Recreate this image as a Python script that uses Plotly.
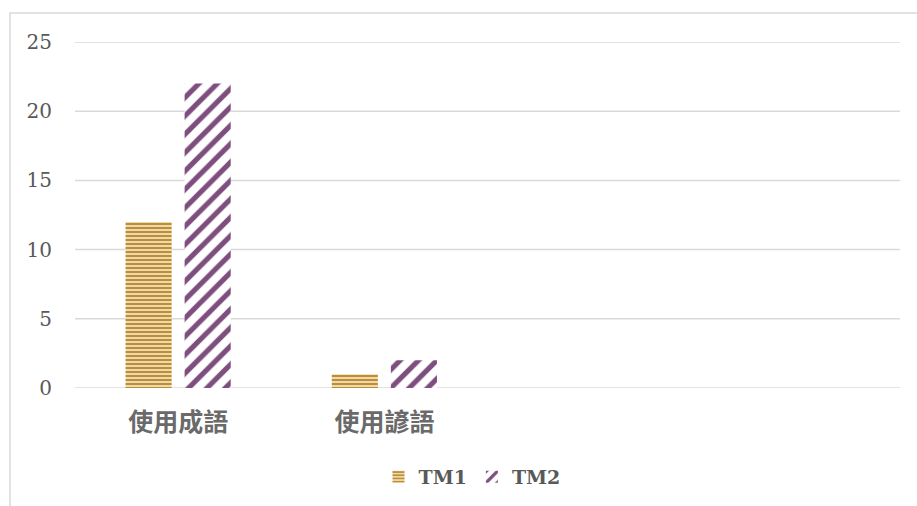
import plotly.graph_objects as go

# Category labels (two trailing slots are intentionally blank)
categories = ["使用成語", "使用諺語"]
tm1_values = [12, 1]
tm2_values = [22, 2]
y_ticks = [0, 5, 10, 15, 20, 25]

GOLD = "#BF8F2F"
PURPLE = "#7E4E7E"
GRID = "#D9D9D9"
TEXT = "#595959"

fig = go.Figure()
fig.add_trace(go.Bar(
    name="TM1", x=categories, y=tm1_values,
    marker=dict(
        color="#F6ECD8",
        line=dict(width=0),
        pattern=dict(shape="-", fgcolor=GOLD, bgcolor="#F6ECD8",
                     size=4, solidity=0.6, fillmode="replace"),
    ),
))
fig.add_trace(go.Bar(
    name="TM2", x=categories, y=tm2_values,
    marker=dict(
        color="white",
        line=dict(width=0),
        pattern=dict(shape="/", fgcolor=PURPLE, bgcolor="white",
                     size=13, solidity=0.4, fillmode="replace"),
    ),
))

L, R, T, B = 75, 17, 42, 118
W, H = 917, 506
pw, ph = W - L - R, H - T - B

def px_to_paper_x(px):
    return (px - L) / pw

def px_to_paper_y(py):
    return (H - B - py) / ph

# Outer chart frame
fig.add_shape(
    type="rect", xref="paper", yref="paper",
    x0=px_to_paper_x(10), x1=px_to_paper_x(925),
    y0=px_to_paper_y(515), y1=px_to_paper_y(13),
    line=dict(color=GRID, width=1.5), fillcolor="rgba(0,0,0,0)",
    layer="below",
)

# Horizontal gridlines spanning the full plot width
for v in y_ticks:
    fig.add_shape(
        type="line", xref="paper", yref="y",
        x0=0, x1=1, y0=v, y1=v,
        line=dict(color=GRID, width=1.5), layer="below",
    )

fig.update_layout(
    width=W, height=H, autosize=False,
    margin=dict(l=L, r=R, t=T, b=B, autoexpand=False),
    paper_bgcolor="white", plot_bgcolor="white",
    barmode="group", bargap=0.427, bargroupgap=0.22,
    showlegend=True,
    legend=dict(
        orientation="h", x=px_to_paper_x(472), xanchor="center",
        y=px_to_paper_y(477), yanchor="middle",
        font=dict(family="DejaVu Serif", size=19, color=TEXT, weight="bold"),
        itemwidth=30, tracegroupgap=0,
    ),
    xaxis=dict(
        type="category", range=[-0.5, 3.5], automargin=False,
        showgrid=False, showline=False, zeroline=False,
        ticks="", ticklabelstandoff=17,
        tickfont=dict(family="Noto Sans CJK TC", size=25, color="#6A6A6A",
                      weight="bold"),
    ),
    yaxis=dict(
        range=[0, 25], tickvals=y_ticks, automargin=False,
        showgrid=False, zeroline=False,
        showline=False, ticks="", ticklabelstandoff=22,
        tickfont=dict(family="DejaVu Serif", size=20, color=TEXT),
    ),
)

fig.write_html("out.html")
